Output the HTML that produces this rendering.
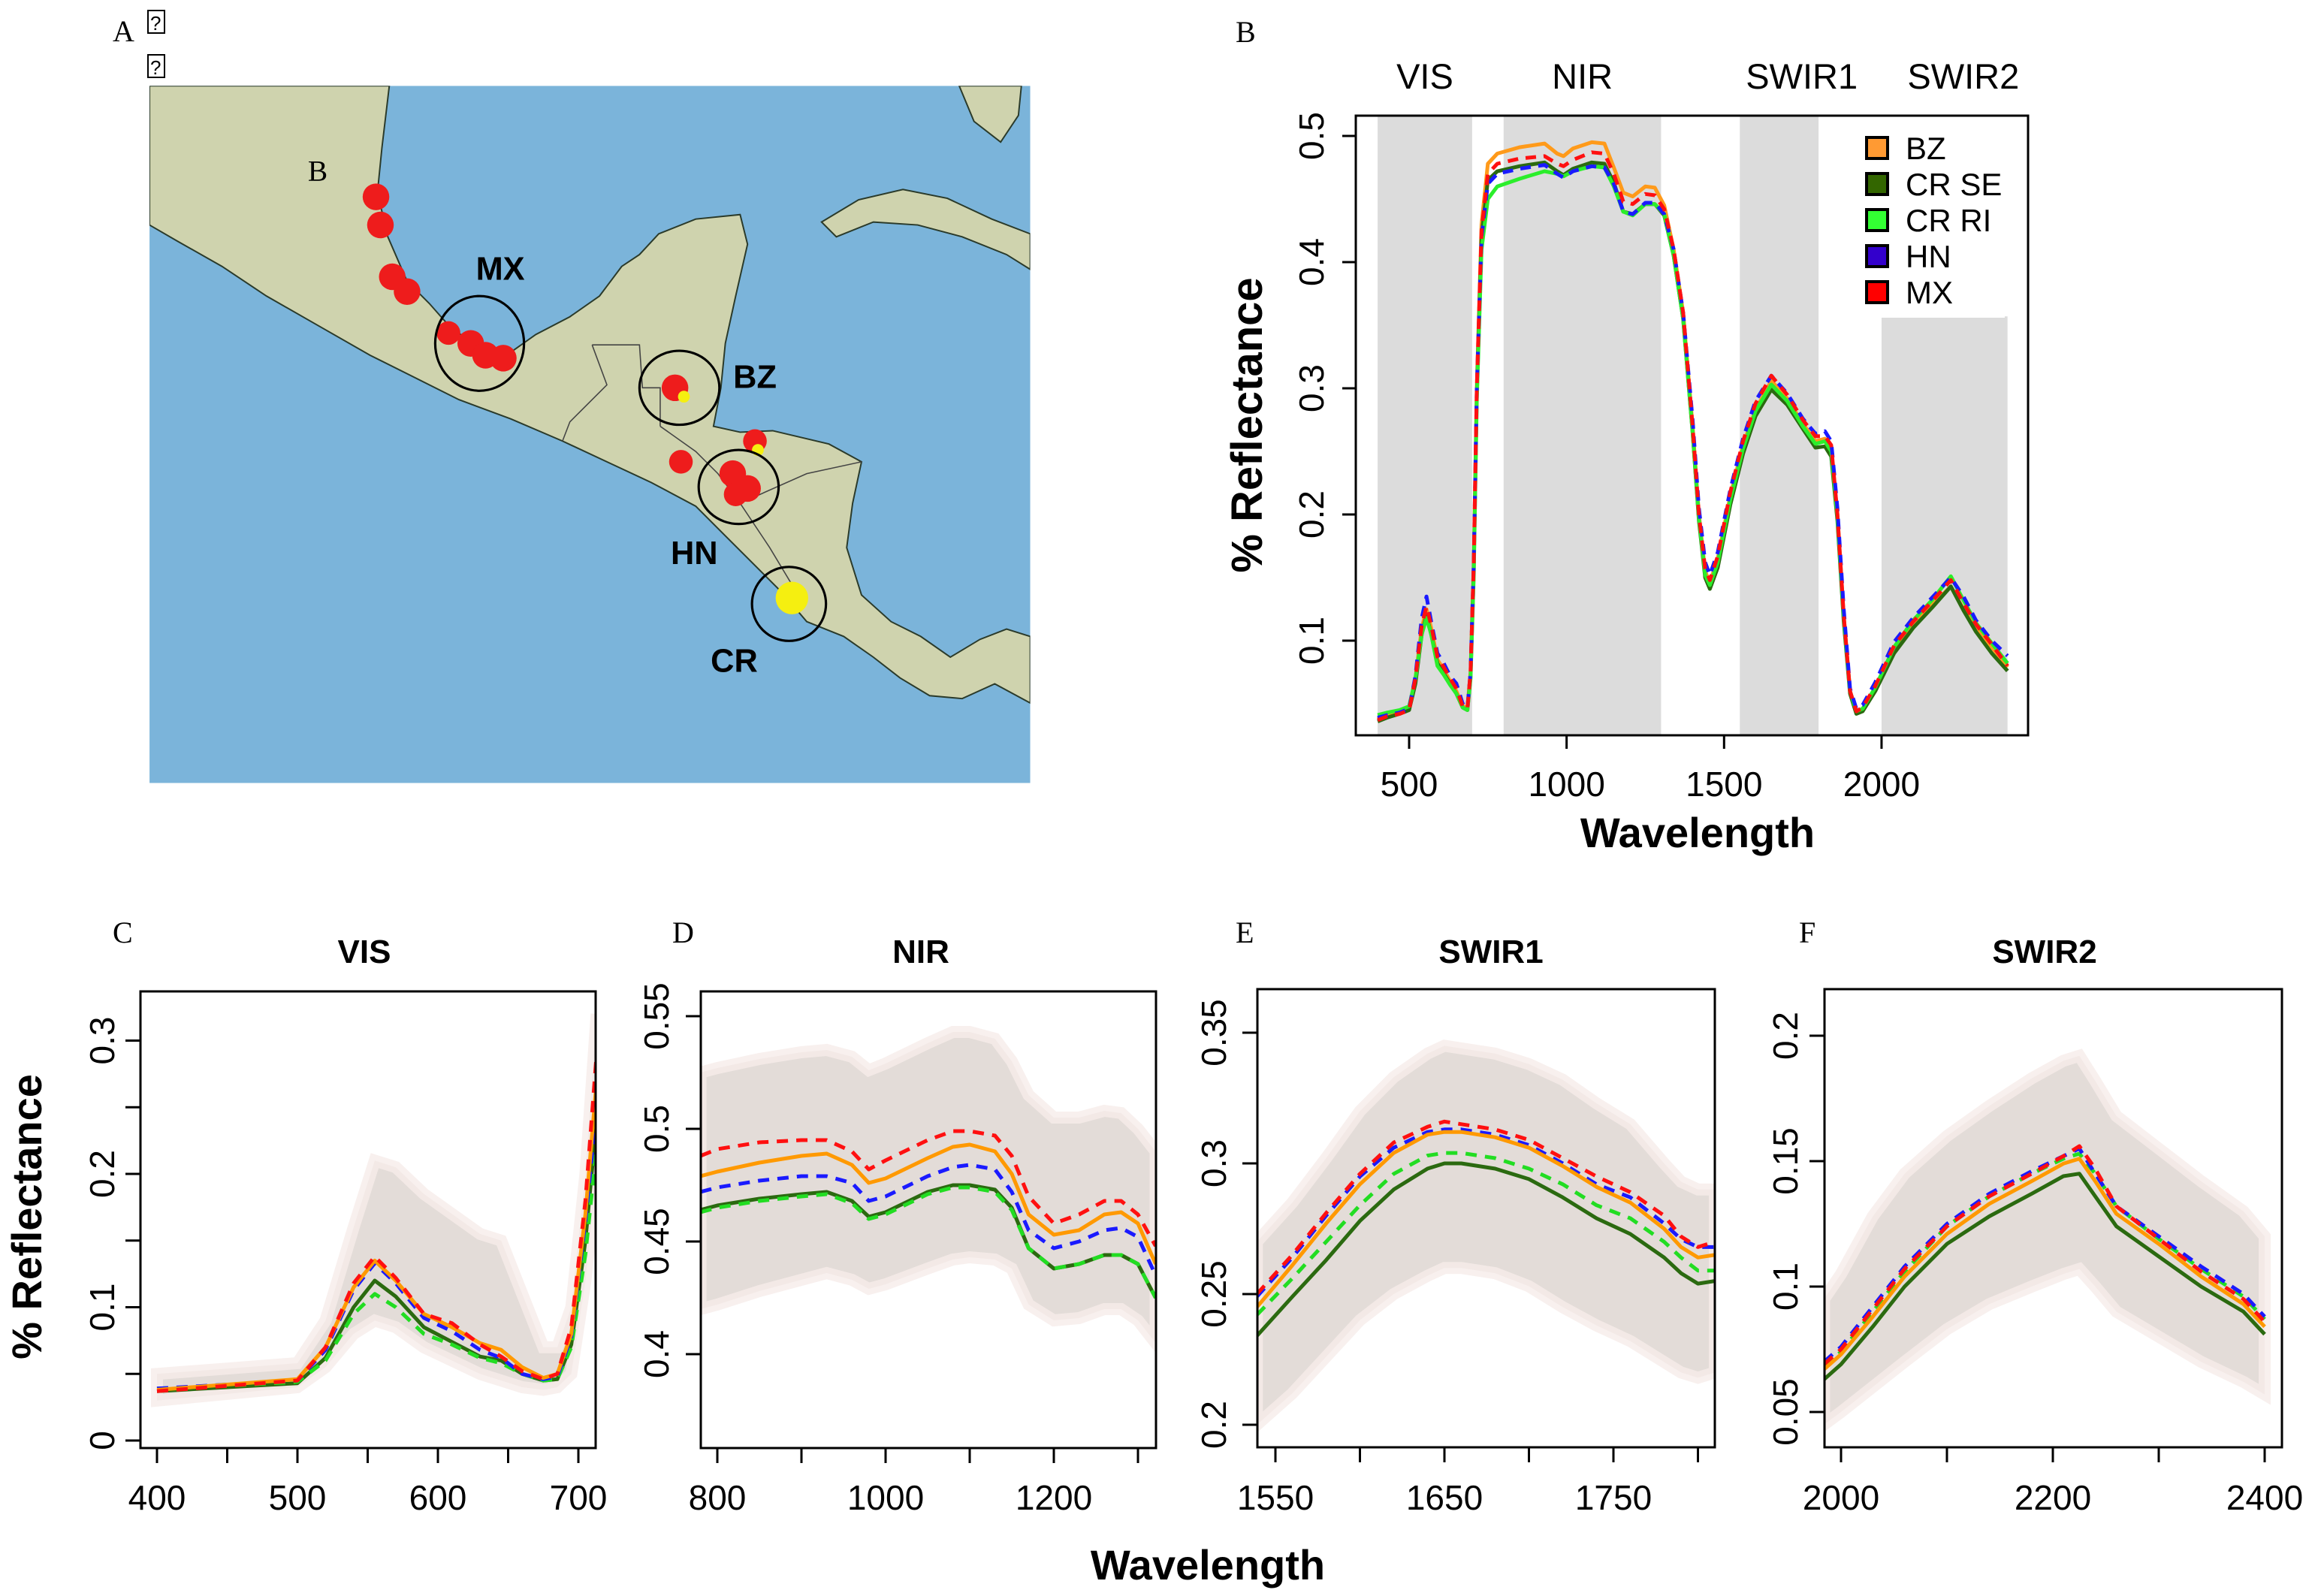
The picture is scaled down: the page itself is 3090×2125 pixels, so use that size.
<!DOCTYPE html>
<html><head><meta charset="utf-8"><style>
html,body{margin:0;padding:0;background:#fff}
svg{display:block}
text{font-family:"Liberation Sans",sans-serif}
.serif{font-family:"Liberation Serif",serif}
</style></head><body>
<svg id="fig" xmlns="http://www.w3.org/2000/svg" width="3090" height="2125" viewBox="0 0 3090 2125">
<defs>
<clipPath id="mapclip"><rect x="101" y="58" width="595" height="471"/></clipPath>
<clipPath id="cB"><rect x="1805" y="154" width="895" height="825"/></clipPath>
<clipPath id="cC"><rect x="187" y="1320" width="606" height="608"/></clipPath>
<clipPath id="cD"><rect x="933" y="1320" width="606" height="608"/></clipPath>
<clipPath id="cE"><rect x="1674" y="1317" width="609" height="610"/></clipPath>
<clipPath id="cF"><rect x="2429" y="1317" width="609" height="610"/></clipPath>
</defs>

<g>
<text class="serif" x="150" y="55" font-size="40">A</text>
<rect x="197" y="14" width="22" height="30" fill="none" stroke="#000" stroke-width="2"/>
<text x="200" y="40" font-size="26">?</text>
<rect x="197" y="73" width="22" height="30" fill="none" stroke="#000" stroke-width="2"/>
<text x="200" y="99" font-size="26">?</text>
<g transform="scale(1.9707)">
<g clip-path="url(#mapclip)">
<rect x="101" y="58" width="595" height="471" fill="#7bb4da"/>
<path fill="#cfd3ae" stroke="#2a3a2a" stroke-width="1" d="M101,58 L263,58 L258,100 L255,130 L262,160 L275,190 L290,205 L305,222 L322,233 L345,238 L362,226 L385,214 L405,200 L420,180 L432,172 L445,158 L470,148 L500,145 L505,165 L497,200 L490,232 L487,262 L482,288 L500,292 L522,291 L560,300 L582,312 L576,340 L572,370 L582,402 L602,420 L622,430 L642,444 L662,432 L680,425 L696,430 L696,475 L672,462 L650,472 L628,470 L608,458 L590,444 L570,430 L545,420 L528,400 L510,382 L490,362 L470,342 L440,326 L410,312 L380,298 L345,283 L310,270 L280,255 L250,240 L215,220 L180,200 L150,180 L120,163 L101,152 Z"/>
<path fill="#cfd3ae" stroke="#2a3a2a" stroke-width="1" d="M555,150 L580,135 L610,128 L640,134 L670,148 L696,158 L696,182 L680,172 L650,160 L620,152 L590,150 L565,160 Z"/>
<path fill="#cfd3ae" stroke="#2a3a2a" stroke-width="1" d="M648,58 L658,82 L676,96 L688,78 L690,58 Z"/>
<path fill="none" stroke="#444" stroke-width="0.8" d="M400,233 L432,233 L434,262 L446,262 L446,288 M400,233 L410,260 L385,285 L380,298 M446,288 L470,305 L485,320 L500,340 M500,340 L545,320 L582,312 M500,340 L520,370 L535,395"/>
<g>
<circle cx="254" cy="133" r="9" fill="#ee1c1c"/><circle cx="257" cy="152" r="9" fill="#ee1c1c"/>
<circle cx="265" cy="187" r="9" fill="#ee1c1c"/><circle cx="275" cy="197" r="9" fill="#ee1c1c"/>
<circle cx="303" cy="225" r="8" fill="#ee1c1c"/><circle cx="318" cy="232" r="9" fill="#ee1c1c"/>
<circle cx="328" cy="240" r="9" fill="#ee1c1c"/><circle cx="340" cy="242" r="9" fill="#ee1c1c"/>
<circle cx="456" cy="262" r="9" fill="#ee1c1c"/><circle cx="460" cy="312" r="8" fill="#ee1c1c"/>
<circle cx="510" cy="298" r="8" fill="#ee1c1c"/><circle cx="495" cy="320" r="9" fill="#ee1c1c"/>
<circle cx="505" cy="330" r="9" fill="#ee1c1c"/><circle cx="497" cy="334" r="8" fill="#ee1c1c"/>
<circle cx="535" cy="404" r="11" fill="#f5ef10"/>
<circle cx="462" cy="268" r="4" fill="#f5ef10"/><circle cx="512" cy="304" r="4" fill="#f5ef10"/>
</g>
<g fill="none" stroke="#000" stroke-width="1.6">
<ellipse cx="324" cy="232" rx="30" ry="32"/>
<ellipse cx="459" cy="262" rx="27" ry="25"/>
<ellipse cx="499" cy="329" rx="27" ry="25"/>
<ellipse cx="533" cy="408" rx="25" ry="25"/>
</g>
<g font-weight="bold" font-size="22" text-anchor="middle">
<text x="338" y="189">MX</text>
<text x="510" y="262">BZ</text>
<text x="469" y="381">HN</text>
<text x="496" y="454">CR</text>
</g>
<text class="serif" x="208" y="122" font-size="20">B</text>
</g>
</g>
</g>

<g id="pB">
<text class="serif" x="1645" y="56" font-size="40">B</text>
</g>
<g id="pC"></g>
<g id="pD"></g>
<g id="pE"></g>
<g id="pF"></g>
<text x="1608" y="2103" font-size="56" font-weight="bold" text-anchor="middle">Wavelength</text>
<text transform="translate(55,1620) rotate(-90)" font-size="56" font-weight="bold" text-anchor="middle">% Reflectance</text>
</svg>
<script>
const bWave = [400,430,470,500,520,540,555,570,590,610,630,650,670,685,695,705,715,730,750,780,850,930,970,990,1020,1080,1120,1150,1180,1210,1250,1280,1310,1340,1370,1400,1420,1440,1455,1480,1520,1560,1600,1650,1700,1750,1790,1820,1840,1860,1880,1900,1920,1940,1980,2040,2100,2160,2220,2260,2300,2350,2400];
const bBZ = [.038,.041,.043,.046,.07,.11,.125,.11,.085,.077,.068,.06,.048,.047,.075,.16,.3,.43,.478,.486,.491,.494,.486,.484,.49,.495,.494,.475,.455,.452,.46,.459,.445,.41,.36,.27,.2,.155,.146,.165,.215,.255,.283,.306,.292,.272,.258,.26,.252,.2,.12,.06,.044,.046,.062,.093,.112,.128,.143,.125,.11,.095,.079];
const bMX = [.037,.04,.042,.045,.07,.112,.127,.112,.087,.079,.07,.062,.048,.046,.075,.16,.3,.425,.47,.478,.482,.484,.478,.476,.481,.487,.486,.47,.448,.446,.454,.453,.442,.41,.36,.27,.2,.157,.148,.167,.218,.258,.288,.31,.295,.275,.262,.262,.255,.2,.12,.06,.044,.047,.064,.096,.115,.131,.148,.13,.113,.097,.08];
const bHN = [.039,.041,.043,.046,.072,.118,.135,.115,.09,.082,.072,.066,.05,.047,.075,.16,.3,.42,.462,.47,.474,.477,.47,.467,.472,.476,.475,.462,.44,.438,.447,.447,.438,.41,.36,.275,.205,.162,.152,.17,.22,.26,.29,.31,.296,.276,.264,.266,.258,.205,.125,.062,.046,.049,.067,.099,.118,.134,.15,.135,.116,.1,.088];
const bCRSE = [.036,.039,.042,.045,.066,.105,.12,.105,.082,.074,.066,.058,.047,.045,.072,.155,.295,.42,.465,.472,.476,.479,.472,.469,.474,.479,.478,.463,.44,.438,.446,.446,.437,.405,.355,.265,.195,.15,.141,.158,.208,.248,.278,.299,.287,.268,.253,.254,.246,.195,.115,.058,.042,.044,.06,.09,.11,.126,.143,.124,.107,.09,.076];
const bCRRI = [.041,.043,.045,.048,.07,.105,.118,.105,.08,.073,.065,.058,.047,.045,.07,.15,.29,.41,.45,.46,.466,.472,.47,.468,.472,.476,.475,.46,.44,.437,.446,.446,.438,.405,.355,.265,.197,.152,.144,.162,.212,.252,.282,.303,.29,.27,.256,.258,.25,.198,.118,.06,.044,.046,.063,.095,.116,.132,.151,.132,.114,.098,.082];
const bXTicks = [500,1000,1500,2000];
const bYTicks = [0.1,0.2,0.3,0.4,0.5];
const regionNames = ["VIS","NIR","SWIR1","SWIR2"];
const regionStart = [400,800,1550,2000];
const regionEnd = [700,1300,1800,2400];
const legendNames = ["BZ","CR SE","CR RI","HN","MX"];

const cWave = [400,450,500,520,540,555,570,590,610,630,645,660,675,685,695,705,713];
const cBZ = [.038,.042,.046,.07,.115,.135,.12,.095,.085,.073,.068,.055,.047,.05,.08,.17,.27];
const cMX = [.037,.041,.045,.07,.118,.138,.122,.095,.088,.072,.063,.052,.046,.05,.085,.18,.29];
const cHN = [.039,.042,.045,.068,.113,.133,.118,.092,.082,.068,.062,.05,.046,.048,.078,.165,.25];
const cCRSE = [.037,.04,.043,.062,.1,.12,.108,.085,.074,.063,.06,.05,.045,.046,.072,.15,.24];
const cCRRI = [.039,.041,.044,.06,.095,.11,.1,.08,.072,.062,.058,.05,.045,.046,.07,.14,.22];
const cHi = [.05,.054,.058,.09,.16,.21,.205,.185,.17,.155,.15,.11,.07,.07,.1,.2,.32];
const cLo = [.03,.035,.04,.055,.08,.09,.085,.07,.06,.05,.045,.04,.038,.04,.05,.12,.2];
const cXTicks = [400,450,500,550,600,650,700];
const cXLabels = [400,500,600,700];
const cYTicks = [0,0.05,0.1,0.15,0.2,0.25,0.3];
const cYLabels = [0,0.1,0.2,0.3];

const dWave = [780,800,850,900,930,960,980,1000,1050,1080,1100,1130,1150,1170,1200,1230,1260,1280,1300,1321];
const dMX = [.488,.491,.494,.495,.495,.49,.482,.486,.495,.499,.499,.497,.488,.47,.458,.462,.468,.468,.462,.448];
const dBZ = [.479,.481,.485,.488,.489,.484,.476,.478,.487,.492,.493,.49,.48,.462,.453,.455,.462,.463,.458,.44];
const dHN = [.472,.474,.477,.479,.479,.476,.468,.47,.479,.483,.484,.482,.472,.455,.447,.45,.455,.456,.452,.435];
const dCRSE = [.464,.466,.469,.471,.472,.468,.461,.463,.472,.475,.475,.473,.465,.447,.438,.44,.444,.444,.44,.425];
const dCRRI = [.463,.465,.468,.47,.471,.467,.46,.462,.471,.474,.474,.472,.464,.447,.438,.44,.444,.444,.44,.425];
const dHi = [.525,.527,.531,.534,.535,.532,.526,.529,.538,.543,.543,.54,.53,.515,.505,.505,.508,.507,.5,.49];
const dLo = [.42,.422,.428,.433,.436,.433,.429,.431,.438,.442,.443,.442,.438,.422,.415,.416,.42,.42,.415,.405];
const dXTicks = [800,900,1000,1100,1200,1300];
const dXLabels = [800,1000,1200];
const dYTicks = [0.4,0.45,0.5,0.55];
const dYLabels = ["0.4","0.45","0.5","0.55"];

const eWave = [1539,1560,1580,1600,1620,1640,1650,1660,1680,1700,1720,1740,1760,1780,1790,1800,1810];
const eCRSE = [.234,.249,.263,.278,.29,.298,.3,.3,.298,.294,.287,.279,.273,.264,.258,.254,.255];
const eCRRI = [.242,.256,.27,.284,.296,.303,.304,.304,.302,.298,.292,.284,.279,.27,.264,.259,.259];
const eBZ = [.245,.261,.277,.292,.304,.311,.312,.312,.31,.306,.299,.291,.285,.275,.268,.264,.265];
const eHN = [.249,.264,.28,.295,.306,.312,.313,.313,.311,.307,.3,.292,.287,.277,.271,.268,.268];
const eMX = [.25,.265,.281,.296,.308,.314,.316,.315,.313,.309,.302,.295,.289,.28,.272,.268,.27];
const eHi = [.27,.285,.302,.32,.333,.342,.345,.344,.342,.338,.332,.323,.315,.3,.293,.29,.29];
const eLo = [.2,.212,.226,.24,.25,.257,.26,.26,.258,.253,.245,.238,.232,.224,.22,.218,.22];
const eXTicks = [1550,1600,1650,1700,1750,1800];
const eXLabels = [1550,1650,1750];
const eYTicks = [0.2,0.25,0.3,0.35];
const eYLabels = ["0.2","0.25","0.3","0.35"];

const fWave = [1984,2000,2030,2060,2100,2140,2180,2210,2225,2240,2260,2300,2340,2380,2400];
const fCRSE = [.063,.069,.084,.1,.117,.128,.137,.144,.145,.136,.124,.112,.1,.09,.081];
const fBZ = [.067,.073,.088,.104,.121,.133,.142,.149,.151,.142,.129,.117,.104,.093,.084];
const fCRRI = [.068,.074,.09,.106,.124,.136,.145,.151,.153,.145,.132,.119,.107,.096,.087];
const fHN = [.07,.076,.092,.108,.125,.137,.146,.152,.155,.145,.132,.12,.108,.097,.088];
const fMX = [.069,.075,.091,.107,.124,.136,.145,.152,.156,.147,.132,.119,.106,.095,.086];
const fHi = [.095,.105,.128,.145,.16,.172,.183,.19,.192,.182,.168,.155,.142,.13,.12];
const fLo = [.045,.05,.06,.07,.083,.093,.1,.105,.107,.1,.09,.08,.07,.062,.057];
const fXTicks = [2000,2100,2200,2300,2400];
const fXLabels = [2000,2200,2400];
const fYTicks = [0.05,0.1,0.15,0.2];
const fYLabels = ["0.05","0.1","0.15","0.2"];

const NS = "http://www.w3.org/2000/svg";
function mk(tag, attrs, parent){
  const e = document.createElementNS(NS, tag);
  for (const k in attrs) e.setAttribute(k, attrs[k]);
  parent.appendChild(e);
  return e;
}
function pathD(ws, vs, xf, yf){
  return ws.map((w,i)=>(i?"L":"M")+xf(w).toFixed(1)+","+yf(vs[i]).toFixed(1)).join(" ");
}
function fmt(v){ return String(v); }

(function(){
  const g = document.getElementById("pB");
  const L=1805,T=154,R=2700,B=979;
  const xf = w => 1876 + (w-500)*0.4193;
  const yf = v => 853 - (v-0.1)*1680;
  for (let i=0;i<regionNames.length;i++){
    const top = i===3 ? yf(0.357) : T;
    const r = mk("rect",{x:xf(regionStart[i]),y:top,width:xf(regionEnd[i])-xf(regionStart[i]),height:B-top,fill:"#dcdcdc"},g);
    
    
    const t = mk("text",{x:(xf(regionStart[i])+xf(regionEnd[i]))/2+[0,0,30,25][i],y:118,"font-size":47,"text-anchor":"middle"},g);
    t.textContent = regionNames[i];
    
    
  }
  const cg = mk("g",{"clip-path":"url(#cB)"},g);
  const series = [[bBZ,"#ff9a1a",null,"bz"],[bCRSE,"#2b6a10",null,"cr-se"],[bCRRI,"#2bee2b",null,"cr-ri"],[bHN,"#1a1aff","14 10","hn"],[bMX,"#ff1010","14 10","mx"]];
  series.forEach(s=>{
    const p = mk("path",{d:pathD(bWave,s[0],xf,yf),fill:"none",stroke:s[1],"stroke-width":5,"stroke-linejoin":"round"},cg);
    if (s[2]) p.setAttribute("stroke-dasharray", s[2]);
    
    
  });
  const box = mk("rect",{x:L,y:T,width:R-L,height:B-T,fill:"none",stroke:"#000","stroke-width":3},g);
  
  
  bXTicks.forEach(t=>{
    const l = mk("line",{x1:xf(t),x2:xf(t),y1:B,y2:B+18,stroke:"#000","stroke-width":3},g);
    
    
    const tx = mk("text",{x:xf(t),y:1060,"font-size":46,"text-anchor":"middle"},g);
    tx.textContent = t;
    
    
  });
  bYTicks.forEach(t=>{
    const l = mk("line",{x1:L-18,x2:L,y1:yf(t),y2:yf(t),stroke:"#000","stroke-width":3},g);
    
    
    const tx = mk("text",{transform:"translate(1762,"+yf(t)+") rotate(-90)","font-size":46,"text-anchor":"middle"},g);
    tx.textContent = fmt(t);
    
    
  });
  const xt = mk("text",{x:2260,y:1128,"font-size":56,"font-weight":"bold","text-anchor":"middle"},g);
  xt.textContent = "Wavelength";
  
  
  const yt = mk("text",{transform:"translate(1680,566) rotate(-90)","font-size":58,"font-weight":"bold","text-anchor":"middle"},g);
  yt.textContent = "% Reflectance";
  
  
  const lb = mk("rect",{x:2503,y:158,width:166,height:265,fill:"#fff"},g);
  
  
  const lcol = ["#ff9a33","#336600","#33ff33","#3300cc","#ff0000"];
  legendNames.forEach((n,i)=>{
    const y = 197 + i*48;
    const r = mk("rect",{x:2485,y:y-14,width:28,height:28,fill:lcol[i],stroke:"#000","stroke-width":4},g);
    
    
    const t = mk("text",{x:2537,y:y+15,"font-size":42},g);
    t.textContent = n;
    
    
  });
})();

function drawPanel(cfg){
  const g = document.getElementById(cfg.id);
  const {L,T,R,B,xf,yf} = cfg;
  const cg = mk("g",{"clip-path":"url(#"+cfg.clip+")"},g);
  const bandD = pathD(cfg.w,cfg.hi,xf,yf) + " " + cfg.w.slice().reverse().map((w,i)=>"L"+xf(w).toFixed(1)+","+yf(cfg.lo[cfg.w.length-1-i]).toFixed(1)).join(" ") + " Z";
  const band = mk("path",{d:bandD,fill:"#e3dcd8",stroke:"#f6ecea","stroke-width":16,"stroke-opacity":0.8},cg);
  
  
  cfg.series.forEach(s=>{
    const p = mk("path",{d:pathD(cfg.w,s[0],xf,yf),fill:"none",stroke:s[1],"stroke-width":5,"stroke-linejoin":"round"},cg);
    if (s[2]) p.setAttribute("stroke-dasharray", s[2]);
    
    
  });
  const box = mk("rect",{x:L,y:T,width:R-L,height:B-T,fill:"none",stroke:"#000","stroke-width":3},g);
  
  
  cfg.xt.forEach(t=>{
    const l = mk("line",{x1:xf(t),x2:xf(t),y1:B,y2:B+20,stroke:"#000","stroke-width":3},g);
    
    
  });
  cfg.xl.forEach(t=>{
    const tx = mk("text",{x:xf(t),y:2010,"font-size":46,"text-anchor":"middle"},g);
    tx.textContent = t;
    
    
  });
  cfg.yt.forEach(t=>{
    const l = mk("line",{x1:L-20,x2:L,y1:yf(t),y2:yf(t),stroke:"#000","stroke-width":3},g);
    
    
  });
  cfg.yl.forEach(t=>{
    const tx = mk("text",{transform:"translate("+cfg.ylx+","+yf(Number(t))+") rotate(-90)","font-size":46,"text-anchor":"middle"},g);
    tx.textContent = t;
    
    
  });
  const title = mk("text",{x:cfg.tx,y:1282,"font-size":44,"font-weight":"bold","text-anchor":"middle"},g);
  title.textContent = cfg.title;
  
  
  const letter = mk("text",{x:cfg.lx,y:1255,"font-size":40,"class":"serif"},g);
  letter.textContent = cfg.letter;
  
  
}
const OR="#ff9900", DG="#2b6a10", LG="#22dd22", BL="#1a1aff", RD="#ff1010", DS="15 11";
drawPanel({id:"pC",clip:"cC",L:187,T:1320,R:793,B:1928,xf:w=>209+(w-400)*1.87,yf:v=>1918-v*1775,
  w:cWave,hi:cHi,lo:cLo,series:[[cCRSE,DG,null,"cr-se"],[cCRRI,LG,DS,"cr-ri"],[cHN,BL,DS,"hn"],[cBZ,OR,null,"bz"],[cMX,RD,DS,"mx"]],
  xt:cXTicks,xl:cXLabels,yt:cYTicks,yl:cYLabels,ylx:152,title:"VIS",tx:485,letter:"C",lx:150});
drawPanel({id:"pD",clip:"cD",L:933,T:1320,R:1539,B:1928,xf:w=>955+(w-800)*1.12,yf:v=>1503-(v-0.5)*3000,
  w:dWave,hi:dHi,lo:dLo,series:[[dCRSE,DG,null,"cr-se"],[dCRRI,LG,DS,"cr-ri"],[dHN,BL,DS,"hn"],[dBZ,OR,null,"bz"],[dMX,RD,DS,"mx"]],
  xt:dXTicks,xl:dXLabels,yt:dYTicks,yl:dYLabels,ylx:890,title:"NIR",tx:1226,letter:"D",lx:895});
drawPanel({id:"pE",clip:"cE",L:1674,T:1317,R:2283,B:1927,xf:w=>1698+(w-1550)*2.25,yf:v=>1549-(v-0.3)*3480,
  w:eWave,hi:eHi,lo:eLo,series:[[eCRSE,DG,null,"cr-se"],[eCRRI,LG,DS,"cr-ri"],[eHN,BL,DS,"hn"],[eBZ,OR,null,"bz"],[eMX,RD,DS,"mx"]],
  xt:eXTicks,xl:eXLabels,yt:eYTicks,yl:eYLabels,ylx:1632,title:"SWIR1",tx:1985,letter:"E",lx:1645});
drawPanel({id:"pF",clip:"cF",L:2429,T:1317,R:3038,B:1927,xf:w=>2451+(w-2000)*1.41,yf:v=>1546-(v-0.15)*3340,
  w:fWave,hi:fHi,lo:fLo,series:[[fCRSE,DG,null,"cr-se"],[fCRRI,LG,DS,"cr-ri"],[fHN,BL,DS,"hn"],[fBZ,OR,null,"bz"],[fMX,RD,DS,"mx"]],
  xt:fXTicks,xl:fXLabels,yt:fYTicks,yl:fYLabels,ylx:2393,title:"SWIR2",tx:2722,letter:"F",lx:2395});
</script>
</body></html>
